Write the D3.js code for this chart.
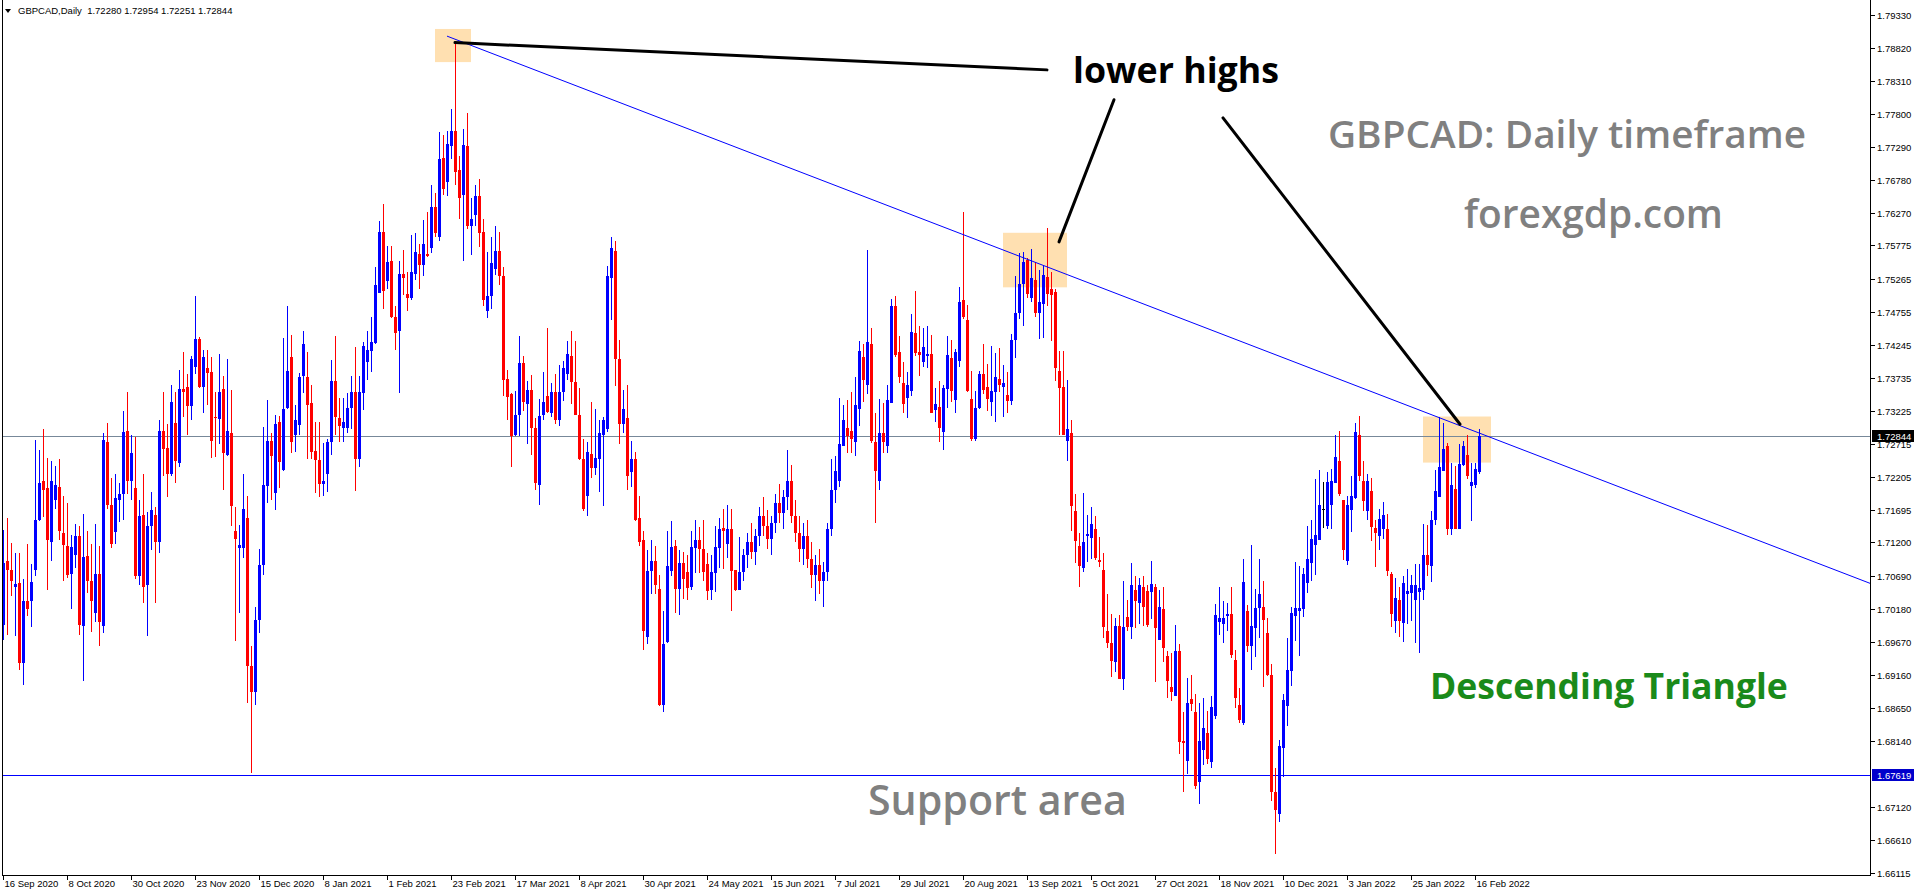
<!DOCTYPE html>
<html><head><meta charset="utf-8">
<script src="https://cdn.jsdelivr.net/npm/d3@7"></script>
<style>body{margin:0;background:#fff;overflow:hidden}svg{display:block}</style>
</head><body>
<svg id="c" width="1916" height="896"></svg>
<script>
const opens=[
1.6993,1.7091,1.7077,1.7052,1.7057,1.6935,1.7030,1.7029,1.7077,1.7154,
1.7215,1.7204,1.7120,1.7185,1.7206,1.7134,1.7115,1.7071,1.7100,1.7130,
1.6991,1.7099,1.7060,1.7011,1.7072,1.6992,1.7275,1.7177,1.7136,1.7186,
1.7194,1.7291,1.7215,1.7204,1.7069,1.7163,1.7054,1.7145,1.7163,1.7120,
1.7291,1.7266,1.7225,1.7304,1.7243,1.7357,1.7359,1.7330,1.7391,1.7434,
1.7359,1.7389,1.7382,1.7313,1.7310,1.7357,1.7254,1.7289,1.7137,1.7111,
1.7111,1.7157,1.6929,1.6890,1.7000,1.7085,1.7207,1.7276,1.7196,1.7305,
1.7232,1.7327,1.7405,1.7285,1.7301,1.7376,1.7375,1.7335,1.7261,1.7247,
1.7210,1.7225,1.7274,1.7368,1.7311,1.7296,1.7296,1.7327,1.7351,1.7249,
1.7350,1.7398,1.7415,1.7428,1.7505,1.7598,1.7523,1.7553,1.7468,1.7445,
1.7534,1.7502,1.7496,1.7533,1.7565,1.7548,1.7565,1.7573,1.7636,1.7591,
1.7713,1.7676,1.7730,1.7754,1.7693,1.7656,1.7731,1.7607,1.7625,1.7653,
1.7599,1.7476,1.7499,1.7541,1.7569,1.7530,1.7372,1.7348,1.7286,1.7316,
1.7396,1.7333,1.7355,1.7296,1.7209,1.7317,1.7346,1.7320,1.7352,1.7308,
1.7352,1.7380,1.7407,1.7367,1.7317,1.7249,1.7192,1.7256,1.7234,1.7249,
1.7285,1.7295,1.7528,1.7569,1.7403,1.7302,1.7312,1.7229,1.7248,1.7157,
1.7123,1.6975,1.7076,1.7091,1.7049,1.6869,1.6966,1.7076,1.7114,1.7048,
1.7088,1.7075,1.7051,1.7112,1.7123,1.7110,1.7087,1.7046,1.7073,1.7111,
1.7142,1.7117,1.7140,1.7077,1.7047,1.7074,1.7100,1.7120,1.7105,1.7130,
1.7160,1.7145,1.7125,1.7150,1.7180,1.7165,1.7190,1.7215,1.7160,1.7135,
1.7110,1.7130,1.7095,1.7070,1.7085,1.7060,1.7075,1.7140,1.7200,1.7215,
1.7269,1.7297,1.7292,1.7274,1.7326,1.7406,1.7362,1.7426,1.7274,1.7215,
1.7289,1.7269,1.7335,1.7484,1.7413,1.7365,1.7343,1.7354,1.7442,1.7413,
1.7398,1.7407,1.7411,1.7324,1.7329,1.7290,1.7357,1.7404,1.7340,1.7399,
1.7493,1.7462,1.7341,1.7279,1.7327,1.7379,1.7359,1.7336,1.7351,1.7372,
1.7360,1.7347,1.7338,1.7432,1.7473,1.7518,1.7555,1.7497,1.7524,1.7473,
1.7487,1.7529,1.7510,1.7506,1.7384,1.7360,1.7276,1.7289,1.7169,1.7115,
1.7080,1.7130,1.7127,1.7141,1.7093,1.7078,1.6984,1.6965,1.6936,1.6991,
1.6910,1.7005,1.6990,1.7047,1.7027,1.7052,1.7045,1.7044,1.7052,1.6969,
1.7017,1.6945,1.6897,1.6884,1.6952,1.6814,1.6783,1.6879,1.6858,1.6751,
1.6800,1.6826,1.6781,1.6853,1.6997,1.6994,1.7007,1.7010,1.6939,1.6870,
1.6842,1.7014,1.6960,1.6988,1.7019,1.7021,1.6980,1.6915,1.6735,1.6701,
1.6804,1.6868,1.6922,1.7006,1.7014,1.7018,1.7057,1.7088,1.7116,1.7124,
1.7171,1.7146,1.7178,1.7212,1.7246,1.7186,1.7091,1.7170,1.7188,1.7285,
1.7215,1.7168,1.7199,1.7142,1.7130,1.7141,1.7140,1.7071,1.6999,1.7032,
1.6996,1.7041,1.7042,1.7031,1.7043,1.7046,1.7101,1.7083,1.7155,1.7190,
1.7230,1.7269,1.7140,1.7203,1.7140,1.7240,1.7254,1.7207,1.7208,1.72280];
const highs=[
1.7139,1.7158,1.7119,1.7104,1.7104,1.7064,1.7118,1.7087,1.7278,1.7263,
1.7295,1.7250,1.7246,1.7237,1.7249,1.7192,1.7180,1.7131,1.7149,1.7146,
1.7164,1.7137,1.7118,1.7149,1.7114,1.7289,1.7304,1.7220,1.7225,1.7211,
1.7323,1.7352,1.7285,1.7282,1.7186,1.7226,1.7167,1.7198,1.7174,1.7308,
1.7351,1.7303,1.7362,1.7352,1.7386,1.7414,1.7380,1.7407,1.7499,1.7437,
1.7417,1.7417,1.7406,1.7351,1.7411,1.7377,1.7403,1.7355,1.7175,1.7147,
1.7225,1.7191,1.6960,1.7020,1.7110,1.7298,1.7340,1.7289,1.7317,1.7315,
1.7435,1.7485,1.7439,1.7331,1.7381,1.7446,1.7414,1.7363,1.7305,1.7305,
1.7273,1.7280,1.7401,1.7438,1.7342,1.7342,1.7350,1.7376,1.7421,1.7377,
1.7429,1.7445,1.7467,1.7545,1.7615,1.7642,1.7577,1.7576,1.7485,1.7553,
1.7571,1.7536,1.7594,1.7596,1.7580,1.7617,1.7629,1.7670,1.7658,1.7753,
1.7747,1.7754,1.7787,1.7888,1.7716,1.7757,1.7781,1.7651,1.7671,1.7680,
1.7619,1.7567,1.7591,1.7607,1.7598,1.7544,1.7385,1.7350,1.7354,1.7438,
1.7407,1.7369,1.7378,1.7312,1.7341,1.7383,1.7451,1.7366,1.7380,1.7394,
1.7399,1.7430,1.7446,1.7430,1.7358,1.7280,1.7275,1.7336,1.7326,1.7309,
1.7313,1.7546,1.7590,1.7584,1.7432,1.7355,1.7363,1.7277,1.7260,1.7191,
1.7137,1.7108,1.7124,1.7115,1.7070,1.7015,1.7137,1.7153,1.7123,1.7109,
1.7105,1.7101,1.7138,1.7154,1.7143,1.7155,1.7104,1.7100,1.7146,1.7157,
1.7171,1.7178,1.7172,1.7078,1.7129,1.7110,1.7135,1.7150,1.7140,1.7175,
1.7190,1.7170,1.7160,1.7195,1.7210,1.7200,1.7262,1.7240,1.7185,1.7160,
1.7150,1.7155,1.7120,1.7100,1.7110,1.7090,1.7150,1.7248,1.7253,1.7342,
1.7332,1.7340,1.7351,1.7375,1.7430,1.7425,1.7570,1.7451,1.7320,1.7341,
1.7335,1.7363,1.7495,1.7499,1.7438,1.7398,1.7383,1.7472,1.7508,1.7453,
1.7450,1.7453,1.7439,1.7358,1.7368,1.7362,1.7438,1.7432,1.7418,1.7513,
1.7629,1.7486,1.7384,1.7354,1.7384,1.7425,1.7395,1.7422,1.7412,1.7419,
1.7393,1.7383,1.7441,1.7531,1.7566,1.7568,1.7558,1.7572,1.7552,1.7539,
1.7546,1.7605,1.7537,1.7510,1.7415,1.7415,1.7371,1.7309,1.7194,1.7135,
1.7196,1.7163,1.7174,1.7161,1.7128,1.7103,1.7041,1.7010,1.7003,1.7008,
1.7060,1.7031,1.7088,1.7069,1.7065,1.7069,1.7054,1.7091,1.7056,1.7046,
1.7052,1.6952,1.6949,1.6993,1.6963,1.6858,1.6911,1.6916,1.6887,1.6872,
1.6881,1.6861,1.6884,1.7025,1.7051,1.7030,1.7027,1.7051,1.6955,1.6896,
1.7094,1.7023,1.7116,1.7049,1.7095,1.7061,1.7004,1.6933,1.6773,1.6816,
1.6887,1.6972,1.7020,1.7090,1.7084,1.7081,1.7145,1.7155,1.7218,1.7232,
1.7213,1.7228,1.7233,1.7286,1.7292,1.7186,1.7192,1.7223,1.7304,1.7314,
1.7246,1.7226,1.7220,1.7154,1.7171,1.7182,1.7164,1.7075,1.7065,1.7051,
1.7068,1.7079,1.7070,1.7087,1.7086,1.7149,1.7147,1.7169,1.7232,1.7313,
1.7304,1.7273,1.7242,1.7237,1.7272,1.7277,1.7285,1.7242,1.7242,1.72954];
const lows=[
1.6970,1.6978,1.7037,1.6976,1.6924,1.6901,1.7007,1.6989,1.7068,1.7153,
1.7159,1.7047,1.7091,1.7171,1.7124,1.7060,1.7065,1.7017,1.7080,1.6978,
1.6906,1.7042,1.6982,1.6997,1.6960,1.6981,1.7171,1.7112,1.7118,1.7151,
1.7154,1.7194,1.7186,1.7064,1.7054,1.7027,1.6976,1.7109,1.7027,1.7103,
1.7223,1.7190,1.7222,1.7211,1.7236,1.7313,1.7286,1.7309,1.7380,1.7358,
1.7320,1.7331,1.7250,1.7251,1.7271,1.7200,1.7253,1.7146,1.6968,1.7011,
1.7096,1.6873,1.6765,1.6870,1.6980,1.7070,1.7180,1.7186,1.7170,1.7204,
1.7230,1.7325,1.7258,1.7259,1.7286,1.7350,1.7248,1.7249,1.7196,1.7190,
1.7191,1.7197,1.7254,1.7286,1.7274,1.7274,1.7289,1.7295,1.7199,1.7236,
1.7324,1.7371,1.7382,1.7425,1.7505,1.7479,1.7510,1.7466,1.7417,1.7350,
1.7501,1.7476,1.7493,1.7525,1.7511,1.7531,1.7560,1.7566,1.7591,1.7584,
1.7655,1.7653,1.7710,1.7670,1.7619,1.7553,1.7603,1.7563,1.7607,1.7575,
1.7485,1.7465,1.7479,1.7532,1.7517,1.7345,1.7309,1.7236,1.7284,1.7284,
1.7322,1.7272,1.7254,1.7200,1.7178,1.7309,1.7320,1.7313,1.7302,1.7299,
1.7338,1.7371,1.7334,1.7317,1.7247,1.7169,1.7161,1.7220,1.7224,1.7197,
1.7176,1.7290,1.7463,1.7361,1.7272,1.7288,1.7201,1.7206,1.7153,1.7114,
1.6955,1.6963,1.7040,1.7041,1.6868,1.6858,1.6965,1.7069,1.7012,1.7008,
1.7033,1.7032,1.7046,1.7073,1.7073,1.7060,1.7031,1.7032,1.7043,1.7081,
1.7079,1.7096,1.7015,1.7045,1.7047,1.7060,1.7080,1.7095,1.7085,1.7115,
1.7130,1.7110,1.7100,1.7135,1.7150,1.7140,1.7170,1.7150,1.7120,1.7090,
1.7085,1.7080,1.7050,1.7030,1.7040,1.7020,1.7060,1.7130,1.7180,1.7205,
1.7268,1.7258,1.7257,1.7253,1.7300,1.7336,1.7349,1.7273,1.7150,1.7200,
1.7258,1.7258,1.7335,1.7406,1.7366,1.7320,1.7312,1.7345,1.7407,1.7376,
1.7390,1.7388,1.7319,1.7306,1.7275,1.7262,1.7327,1.7336,1.7320,1.7390,
1.7464,1.7351,1.7277,1.7277,1.7326,1.7348,1.7322,1.7315,1.7305,1.7351,
1.7313,1.7320,1.7331,1.7404,1.7464,1.7454,1.7497,1.7490,1.7467,1.7433,
1.7435,1.7484,1.7430,1.7369,1.7286,1.7285,1.7246,1.7138,1.7088,1.7052,
1.7074,1.7090,1.7095,1.7093,1.7082,1.6973,1.6958,1.6913,1.6920,1.6909,
1.6892,1.6983,1.6971,1.6988,1.6995,1.6991,1.6990,1.7002,1.6905,1.6969,
1.6936,1.6881,1.6875,1.6884,1.6794,1.6736,1.6764,1.6861,1.6740,1.6717,
1.6777,1.6778,1.6772,1.6848,1.6978,1.6965,1.6984,1.6942,1.6865,1.6842,
1.6838,1.6951,1.6924,1.6944,1.6973,1.6898,1.6914,1.6721,1.6640,1.6690,
1.6758,1.6837,1.6899,1.6968,1.6945,1.7005,1.7042,1.7060,1.7070,1.7124,
1.7142,1.7140,1.7140,1.7211,1.7191,1.7093,1.7085,1.7136,1.7187,1.7214,
1.7168,1.7155,1.7122,1.7082,1.7108,1.7125,1.7068,1.6989,1.6981,1.6974,
1.6966,1.6994,1.6999,1.6965,1.6950,1.7031,1.7068,1.7059,1.7147,1.7190,
1.7230,1.7132,1.7132,1.7141,1.7140,1.7238,1.7217,1.7153,1.7204,1.72251];
const closes=[
1.7088,1.7078,1.7060,1.7056,1.6934,1.7029,1.7017,1.7059,1.7154,1.7211,
1.7201,1.7123,1.7214,1.7209,1.7137,1.7116,1.7070,1.7113,1.7130,1.6993,
1.7097,1.7061,1.7030,1.7072,1.6997,1.7278,1.7178,1.7118,1.7189,1.7195,
1.7290,1.7215,1.7257,1.7069,1.7161,1.7052,1.7146,1.7170,1.7120,1.7291,
1.7264,1.7226,1.7336,1.7245,1.7357,1.7351,1.7330,1.7403,1.7434,1.7359,
1.7406,1.7381,1.7277,1.7311,1.7351,1.7258,1.7292,1.7176,1.7125,1.7116,
1.7171,1.6929,1.6890,1.7000,1.7085,1.7209,1.7276,1.7253,1.7303,1.7244,
1.7325,1.7384,1.7274,1.7308,1.7375,1.7426,1.7331,1.7260,1.7247,1.7210,
1.7214,1.7274,1.7368,1.7313,1.7299,1.7305,1.7327,1.7351,1.7248,1.7351,
1.7423,1.7417,1.7429,1.7516,1.7599,1.7508,1.7552,1.7467,1.7442,1.7534,
1.7528,1.7496,1.7536,1.7567,1.7548,1.7580,1.7561,1.7636,1.7596,1.7710,
1.7665,1.7734,1.7754,1.7690,1.7650,1.7733,1.7607,1.7619,1.7653,1.7597,
1.7494,1.7500,1.7550,1.7569,1.7530,1.7371,1.7344,1.7284,1.7317,1.7396,
1.7337,1.7355,1.7296,1.7212,1.7315,1.7336,1.7321,1.7352,1.7308,1.7352,
1.7389,1.7410,1.7367,1.7317,1.7248,1.7171,1.7260,1.7234,1.7250,1.7289,
1.7309,1.7530,1.7573,1.7403,1.7302,1.7325,1.7223,1.7249,1.7155,1.7120,
1.6983,1.7076,1.7091,1.7054,1.6869,1.6964,1.7083,1.7113,1.7048,1.7088,
1.7064,1.7050,1.7113,1.7123,1.7110,1.7074,1.7045,1.7074,1.7113,1.7140,
1.7137,1.7140,1.7076,1.7047,1.7074,1.7100,1.7120,1.7105,1.7130,1.7160,
1.7145,1.7125,1.7150,1.7180,1.7165,1.7190,1.7215,1.7160,1.7135,1.7110,
1.7130,1.7095,1.7070,1.7085,1.7060,1.7075,1.7140,1.7200,1.7230,1.7271,
1.7309,1.7284,1.7279,1.7331,1.7415,1.7370,1.7429,1.7277,1.7230,1.7289,
1.7274,1.7340,1.7485,1.7408,1.7375,1.7334,1.7362,1.7444,1.7412,1.7408,
1.7421,1.7411,1.7320,1.7334,1.7296,1.7358,1.7409,1.7354,1.7413,1.7491,
1.7468,1.7353,1.7279,1.7327,1.7379,1.7355,1.7341,1.7353,1.7375,1.7362,
1.7365,1.7338,1.7432,1.7474,1.7518,1.7552,1.7503,1.7527,1.7473,1.7490,
1.7532,1.7503,1.7501,1.7388,1.7358,1.7286,1.7294,1.7176,1.7122,1.7084,
1.7121,1.7133,1.7148,1.7096,1.7090,1.6989,1.6965,1.6937,1.6992,1.6910,
1.6990,1.6990,1.7054,1.7030,1.7054,1.7020,1.6993,1.7056,1.6988,1.7020,
1.6957,1.6907,1.6890,1.6952,1.6813,1.6811,1.6872,1.6871,1.6745,1.6814,
1.6834,1.6787,1.6866,1.7008,1.7004,1.7004,1.7010,1.6946,1.6880,1.6846,
1.7059,1.6960,1.6992,1.7019,1.7040,1.7001,1.6915,1.6735,1.6708,1.6806,
1.6878,1.6923,1.7011,1.7019,1.7019,1.7072,1.7094,1.7126,1.7132,1.7177,
1.7171,1.7213,1.7214,1.7252,1.7195,1.7109,1.7177,1.7191,1.7290,1.7222,
1.7184,1.7215,1.7144,1.7134,1.7156,1.7163,1.7076,1.7010,1.7034,1.6999,
1.7057,1.7045,1.7055,1.7055,1.7050,1.7101,1.7085,1.7155,1.7199,1.7236,
1.7264,1.7141,1.7208,1.7141,1.7241,1.7268,1.7222,1.7213,1.7233,1.72844];

const xTickLabels=["16 Sep 2020","8 Oct 2020","30 Oct 2020","23 Nov 2020","15 Dec 2020","8 Jan 2021","1 Feb 2021","23 Feb 2021","17 Mar 2021","8 Apr 2021","30 Apr 2021","24 May 2021","15 Jun 2021","7 Jul 2021","29 Jul 2021","20 Aug 2021","13 Sep 2021","5 Oct 2021","27 Oct 2021","18 Nov 2021","10 Dec 2021","3 Jan 2022","25 Jan 2022","16 Feb 2022"];
const xTickIndex=[0,16,32,48,64,80,96,112,128,144,160,176,192,208,224,240,256,272,288,304,320,336,352,368];
const yTickLabels=["1.79330","1.78820","1.78310","1.77800","1.77290","1.76780","1.76270","1.75775","1.75265","1.74755","1.74245","1.73735","1.73225","1.72715","1.72205","1.71695","1.71200","1.70690","1.70180","1.69670","1.69160","1.68650","1.68140","1.67120","1.66610","1.66115"];
const bidPrice=1.72844, supportPrice=1.67619;
const headerText="GBPCAD,Daily  1.72280 1.72954 1.72251 1.72844";
// trendline anchors: [bar index, price]
const trendline=[[111,1.7900],[466.75,1.7057]];
// black annotation lines [[i1,p1],[i2,p2]]
const pointerLines=[[[113,1.7890],[261,1.7848]],[[264,1.7583],[277.75,1.7802]],[[305,1.7774],[364.25,1.7302]]];
// highlight boxes [i1,i2,pTop,pBottom]
const boxes=[[108,117,1.7911,1.7860],[250,266,1.7597,1.7513],[355,372,1.7314,1.7243]];

const svg=d3.select("#c");
const W=1916,H=896, L=2, R=1870, B=875;
const x=d3.scaleLinear().domain([0,369]).range([3,1479]);
const y=d3.scaleLinear().domain([1.66115,1.79330]).range([872.5,14.7]);

svg.append("rect").attr("width",W).attr("height",H).attr("fill","#fff");
svg.append("defs").append("clipPath").attr("id","pc").append("rect").attr("x",L).attr("y",0).attr("width",R-L).attr("height",B);
const plot=svg.append("g").attr("clip-path","url(#pc)");

plot.selectAll("rect.box").data(boxes).enter().append("rect").attr("class","box")
 .attr("x",d=>x(d[0])).attr("width",d=>x(d[1])-x(d[0]))
 .attr("y",d=>y(d[2])).attr("height",d=>y(d[3])-y(d[2]))
 .attr("fill","#FFDEAD").attr("opacity",0.95);

plot.append("line").attr("x1",L).attr("x2",R).attr("y1",Math.round(y(bidPrice))+0.5).attr("y2",Math.round(y(bidPrice))+0.5).attr("stroke","#778899").attr("stroke-width",1);
plot.append("line").attr("x1",L).attr("x2",R).attr("y1",Math.round(y(supportPrice))+0.5).attr("y2",Math.round(y(supportPrice))+0.5).attr("stroke","#0000ff").attr("stroke-width",1);

const data=opens.map((o,i)=>({i,o,h:highs[i],l:lows[i],c:closes[i]}));
const col=d=>d.c>d.o?"#0000ff":(d.c<d.o?"#ff0000":"#000000");
const cg=plot.append("g").attr("shape-rendering","crispEdges");
cg.selectAll("rect.w").data(data).enter().append("rect").attr("class","w")
 .attr("x",d=>Math.round(x(d.i))).attr("width",1)
 .attr("y",d=>Math.round(y(Math.max(d.h,d.o,d.c))))
 .attr("height",d=>Math.max(1,Math.round(y(Math.min(d.l,d.o,d.c)))-Math.round(y(Math.max(d.h,d.o,d.c)))))
 .attr("fill",col);
cg.selectAll("rect.b").data(data).enter().append("rect").attr("class","b")
 .attr("x",d=>Math.round(x(d.i))-1).attr("width",3)
 .attr("y",d=>Math.round(y(Math.max(d.o,d.c))))
 .attr("height",d=>Math.max(1,Math.round(y(Math.min(d.o,d.c)))-Math.round(y(Math.max(d.o,d.c)))))
 .attr("fill",col);

plot.append("line").attr("x1",x(trendline[0][0])).attr("y1",y(trendline[0][1])).attr("x2",x(trendline[1][0])).attr("y2",y(trendline[1][1]))
 .attr("stroke","#0000ff").attr("stroke-width",1);
plot.selectAll("line.p").data(pointerLines).enter().append("line").attr("class","p")
 .attr("x1",d=>x(d[0][0])).attr("y1",d=>y(d[0][1])).attr("x2",d=>x(d[1][0])).attr("y2",d=>y(d[1][1]))
 .attr("stroke","#000").attr("stroke-width",3).attr("stroke-linecap","round");

function addText(t,xp,yb,w,fill,weight){
  const s=svg.append("text").attr("x",xp).attr("y",yb).text(t)
   .attr("font-family","'Open Sans',sans-serif").attr("font-weight",weight).attr("fill",fill).style("font-size","100px");
  const cw=s.node().getComputedTextLength();
  s.style("font-size",(100*w/cw)+"px");
  return s;
}
addText("lower highs",1073,83,206,"#000",700);
addText("GBPCAD: Daily timeframe",1328,148,478,"#808080",600);
addText("forexgdp.com",1464,228,259,"#808080",600);
addText("Descending Triangle",1430,699,358,"#1a8a1a",700);
addText("Support area",868,815,259,"#808080",600);

const fg=svg.append("g").attr("shape-rendering","crispEdges");
fg.append("line").attr("x1",L+0.5).attr("x2",L+0.5).attr("y1",0).attr("y2",B+1).attr("stroke","#000");
fg.append("line").attr("x1",R+0.5).attr("x2",R+0.5).attr("y1",0).attr("y2",B+1).attr("stroke","#000");
fg.append("line").attr("x1",L).attr("x2",R+1).attr("y1",B+0.5).attr("y2",B+0.5).attr("stroke","#000");

const font="'Liberation Sans',Arial,sans-serif";
yTickLabels.forEach(t=>{
  const yy=Math.round(y(+t))+0.5;
  fg.append("line").attr("x1",R+1).attr("x2",R+5).attr("y1",yy).attr("y2",yy).attr("stroke","#000");
  svg.append("text").attr("x",R+7).attr("y",yy+3.5).text(t).attr("font-family",font).attr("font-size","9.5px").attr("fill","#000");
});
function tag(p,bg){
  const yy=Math.round(y(p));
  svg.append("rect").attr("x",R+2).attr("y",yy-6).attr("width",42).attr("height",12).attr("fill",bg);
  svg.append("text").attr("x",R+7).attr("y",yy+3.5).text(p.toFixed(5)).attr("font-family",font).attr("font-size","9.5px").attr("fill","#fff");
}
tag(bidPrice,"#000");
tag(supportPrice,"#0000cc");

xTickIndex.forEach((k,j)=>{
  const xx=Math.round(x(k))+0.5;
  fg.append("line").attr("x1",xx).attr("x2",xx).attr("y1",B+1).attr("y2",B+5).attr("stroke","#000");
  svg.append("text").attr("x",xx+1).attr("y",B+12).text(xTickLabels[j]).attr("font-family",font).attr("font-size","9.5px").attr("fill","#000");
});

svg.append("path").attr("d","M5,9 L11,9 L8,13 Z").attr("fill","#000");
svg.append("text").attr("x",18).attr("y",13.5).text(headerText).attr("font-family",font).attr("font-size","9.5px").attr("fill","#000").style("white-space","pre");
</script>
</body></html>
